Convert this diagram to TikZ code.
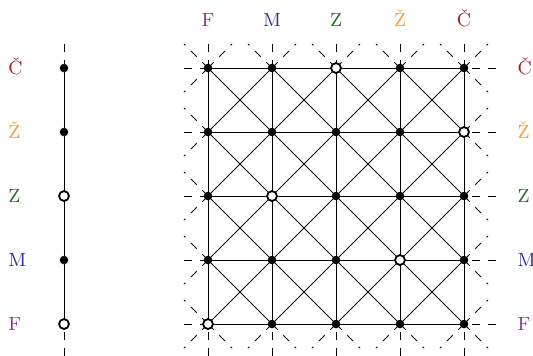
\documentclass[tikz,border=0pt]{standalone}
\usepackage{fontspec}
\usepackage{xcolor}
\usepackage{tikz}
\definecolor{cF}{HTML}{9C27A0}
\definecolor{cM}{HTML}{2E2E99}
\definecolor{cZ}{HTML}{1E6E1E}
\definecolor{cZh}{HTML}{FF9922}
\definecolor{cC}{HTML}{A01E28}
\begin{document}
\begin{tikzpicture}[
    dot/.style={circle, fill=black, inner sep=0pt, minimum size=3.8pt},
    hole/.style={circle, draw=black, line width=0.8pt, fill=white, inner sep=0pt, minimum size=4.4pt},
    ext/.style={dash pattern=on 0.125cm off 0.125cm},
    lab/.style={font=\fontsize{8.5}{10}\selectfont, inner sep=0pt}
  ]
    \useasboundingbox (0,0) rectangle (8.328,5.547);
    % points of the line and of the grid
    \foreach \j in {0,...,4} {
      \coordinate (l-\j) at (1,0.484+\j);
      \foreach \i in {0,...,4}
        \coordinate (p-\i-\j) at (3.25+\i,0.484+\j);
    }
    \coordinate (lt) at (1,4.859);
    \coordinate (lb) at (1,-0.016);
    % the line
    \draw[ext] (lt) -- (l-4);
    \draw[ext] (lb) -- (l-0);
    \draw (l-0) -- (l-4);
    % rows and columns, running on dashed
    \foreach \k in {0,...,4} {
      \path (p-0-\k) ++(-0.375,0) coordinate (hl-\k);
      \path (p-4-\k) ++(0.5,0) coordinate (hr-\k);
      \path (p-\k-4) ++(0,0.375) coordinate (vt-\k);
      \path (p-\k-0) ++(0,-0.5) coordinate (vb-\k);
      \draw[ext] (hl-\k) -- (hr-\k);
      \draw[ext] (vt-\k) -- (vb-\k);
      \draw (p-0-\k) -- (p-4-\k);
      \draw (p-\k-0) -- (p-\k-4);
    }
    % diagonals of each cell
    \foreach \i in {0,...,3}
      \foreach \j in {0,...,3} {
        \pgfmathtruncatemacro\ii{\i+1}
        \pgfmathtruncatemacro\jj{\j+1}
        \draw (p-\i-\j) -- (p-\ii-\jj);
        \draw (p-\ii-\j) -- (p-\i-\jj);
      }
    % diagonals running on past the border
    \foreach \k in {0,...,4} {
      \path (p-\k-0) ++(-0.375,-0.375) coordinate (bl-\k) ++(0.75,0) coordinate (br-\k);
      \path (p-\k-4) ++(-0.375,0.375) coordinate (tl-\k) ++(0.75,0) coordinate (tr-\k);
      \draw[ext] (p-\k-0) -- (bl-\k);
      \draw[ext] (p-\k-0) -- (br-\k);
      \draw[ext] (p-\k-4) -- (tl-\k);
      \draw[ext] (p-\k-4) -- (tr-\k);
    }
    \foreach \k in {0,...,3} {
      \path (p-0-\k) ++(-0.375,0.375) coordinate (lu-\k);
      \path (p-4-\k) ++(0.375,0.375) coordinate (ru-\k);
      \draw[ext] (p-0-\k) -- (lu-\k);
      \draw[ext] (p-4-\k) -- (ru-\k);
    }
    \foreach \k in {1,...,4} {
      \path (p-0-\k) ++(-0.375,-0.375) coordinate (ld-\k);
      \path (p-4-\k) ++(0.375,-0.375) coordinate (rd-\k);
      \draw[ext] (p-0-\k) -- (ld-\k);
      \draw[ext] (p-4-\k) -- (rd-\k);
    }
    % nodes
    \node[hole] (a-0) at (l-0) {};
    \node[dot] (a-1) at (l-1) {};
    \node[hole] (a-2) at (l-2) {};
    \node[dot] (a-3) at (l-3) {};
    \node[dot] (a-4) at (l-4) {};
    \foreach \i in {0,...,4}
      \foreach \j in {0,...,4} {
        \pgfmathtruncatemacro\k{mod(2*\i,5)}
        \ifnum\j=\k
          \node[hole] (g-\i-\j) at (p-\i-\j) {};
        \else
          \node[dot] (g-\i-\j) at (p-\i-\j) {};
        \fi
      }
    % labels
    \foreach \k/\name/\col in {0/F/cF, 1/M/cM, 2/Z/cZ, 3/Ž/cZh, 4/Č/cC} {
      \node[lab, text=\col, anchor=base west] (ll-\k) at (0.125,0.39+\k) {\name};
      \node[lab, text=\col, anchor=base west] (rl-\k) at (8.08,0.39+\k) {\name};
      \node[lab, text=\col, anchor=base] (cl-\k) at (3.25+\k,5.14) {\name};
    }
  \end{tikzpicture}
\end{document}
